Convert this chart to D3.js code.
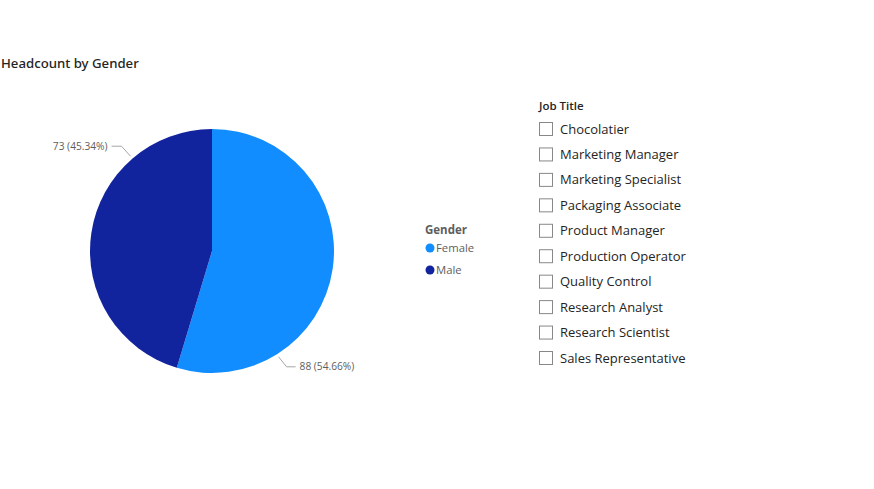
<!DOCTYPE html>
<html><head><meta charset="utf-8">
<script src="https://cdn.jsdelivr.net/npm/d3@7"></script>
<style>body{margin:0;background:#fff;}svg{display:block;}</style>
</head><body>
<script>
const genders = ["Female", "Male"];
const headcount = [88, 73];
const genderColors = ["#118DFF", "#12239E"];
const jobTitles = ["Chocolatier","Marketing Manager","Marketing Specialist","Packaging Associate","Product Manager","Production Operator","Quality Control","Research Analyst","Research Scientist","Sales Representative"];

const W = 874, H = 489;
const svg = d3.select("body").append("svg").attr("width", W).attr("height", H);
const font = "'Segoe UI','Open Sans','Noto Sans',sans-serif";

svg.append("text").attr("x", 1).attr("y", 68).text("Headcount by Gender")
  .attr("font-family", "'DIN','Noto Sans','DejaVu Sans',sans-serif").attr("font-size", 13.2).attr("font-weight", 500).attr("fill", "#252423");

const cx = 212, cy = 251, r = 122;
const total = d3.sum(headcount);
const pie = d3.pie().sort(null).value(d => d)(headcount);
const arc = d3.arc().innerRadius(0).outerRadius(r);
const color = d3.scaleOrdinal().domain(genders).range(genderColors);
const g = svg.append("g").attr("transform", `translate(${cx},${cy})`);
g.selectAll("path").data(pie).join("path").attr("d", arc).attr("fill", (d, i) => color(genders[i]));

// labels
const fmt = v => `${v} (${(v / total * 100).toFixed(2)}%)`;
const labelSpecs = [
  {ang: 2.58, dir: 1, bend: [8, 10], hor: 9},   // Female
  {ang: -0.71, dir: -1, bend: [-9, -10], hor: 10} // Male
];
pie.forEach((d, i) => {
  const s = labelSpecs[i];
  const p0 = [Math.sin(s.ang) * 125, -Math.cos(s.ang) * 125];
  const p1 = [p0[0] + s.bend[0], p0[1] + s.bend[1]];
  const p2 = [p1[0] + s.dir * s.hor, p1[1]];
  g.append("polyline").attr("points", [p0, p1, p2].map(p => p.join(",")).join(" "))
    .attr("fill", "none").attr("stroke", "#A6A6A6").attr("stroke-width", 1);
  g.append("text").attr("x", p2[0] + s.dir * 4).attr("y", p2[1]).attr("dy", "0.35em")
    .attr("text-anchor", s.dir > 0 ? "start" : "end")
    .attr("font-family", font).attr("font-size", 10.2).attr("fill", "#605E5C").text(fmt(headcount[i]));
});

// legend
const lg = svg.append("g");
lg.append("text").attr("x", 425).attr("y", 234).text("Gender").attr("font-family", font)
  .attr("font-size", 11.5).attr("font-weight", 700).attr("fill", "#605E5C");
genders.forEach((n, i) => {
  const y = 248 + i * 22;
  lg.append("circle").attr("cx", 430).attr("cy", y).attr("r", 4.5).attr("fill", color(n));
  lg.append("text").attr("x", 436).attr("y", y).attr("dy", "0.35em").text(n)
    .attr("font-family", font).attr("font-size", 11.3).attr("fill", "#605E5C");
});

// slicer
const sl = svg.append("g");
sl.append("text").attr("x", 539).attr("y", 110).text("Job Title").attr("font-family", font)
  .attr("font-size", 11.5).attr("font-weight", 600).attr("fill", "#252423");
const ys = d3.scalePoint().domain(jobTitles).range([129, 358]);
jobTitles.forEach(t => {
  const y = ys(t);
  sl.append("rect").attr("x", 539.5).attr("y", y - 6.5).attr("width", 13).attr("height", 13)
    .attr("fill", "#fff").attr("stroke", "#8A8886").attr("stroke-width", 1);
  sl.append("text").attr("x", 560).attr("y", y).attr("dy", "0.35em").text(t)
    .attr("font-family", font).attr("font-size", 13).attr("fill", "#252423");
});
</script>
</body></html>
